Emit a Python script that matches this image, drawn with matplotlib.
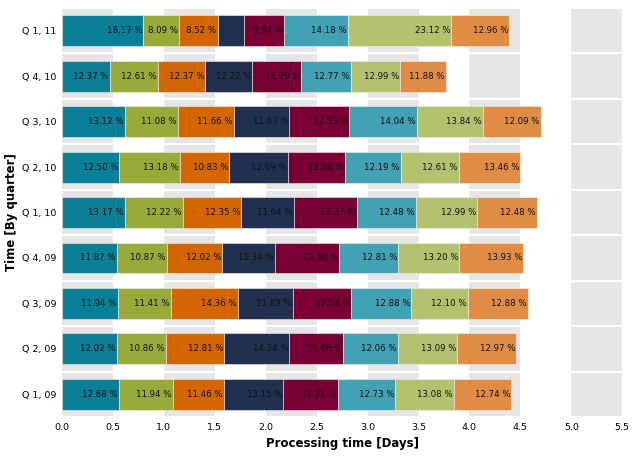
import matplotlib
matplotlib.use('Agg')
import matplotlib.pyplot as plt
import numpy as np

quarters = ['Q 1, 09', 'Q 2, 09', 'Q 3, 09', 'Q 4, 09', 'Q 1, 10',
            'Q 2, 10', 'Q 3, 10', 'Q 4, 10', 'Q 1, 11']
totals = [4.41, 4.46, 4.57, 4.53, 4.66, 4.50, 4.70, 3.77, 4.39]

# percentage share of each segment, per quarter (bottom to top)
shares = [
    [12.68, 11.94, 11.46, 13.15, 12.21, 12.73, 13.08, 12.74],
    [12.02, 10.86, 12.81, 14.34, 11.86, 12.06, 13.09, 12.97],
    [11.94, 11.41, 14.36, 11.89, 12.54, 12.88, 12.10, 12.88],
    [11.87, 10.87, 12.02, 11.34, 13.96, 12.81, 13.20, 13.93],
    [13.17, 12.22, 12.35, 11.04, 13.27, 12.48, 12.99, 12.48],
    [12.50, 13.18, 10.83, 12.69, 12.54, 12.19, 12.61, 13.46],
    [13.12, 11.08, 11.66, 11.63, 12.53, 14.04, 13.84, 12.09],
    [12.37, 12.61, 12.37, 12.22, 12.79, 12.77, 12.99, 11.88],
    [18.17, 8.09, 8.52, 5.92, 9.04, 14.18, 23.12, 12.96],
]

colors = ['#0A8098', '#9AAA3A', '#D46500', '#22304F',
          '#780033', '#42A1B4', '#B3C26E', '#E08C44']

fig = plt.figure(figsize=(6.33, 4.59), dpi=100)
ax = fig.add_axes([0.098, 0.0915, 0.885, 0.891])

# alternating background bands
for x0 in np.arange(0, 5.5, 1.0):
    ax.axvspan(x0, x0 + 0.5, color='#E6E6E6', zorder=0, lw=0)
for yb in np.arange(-0.5, len(quarters) + 0.5, 1.0):
    ax.axhline(yb, color='white', lw=1.5, zorder=0.5)

y = np.arange(len(quarters))
shares = np.array(shares)
widths = shares / 100.0 * np.array(totals)[:, None]
left = np.zeros(len(quarters))
for j in range(shares.shape[1]):
    ax.barh(y, widths[:, j], left=left, height=0.68, color=colors[j],
            edgecolor='#F0F0F0', linewidth=0.4, zorder=2)
    for i in range(len(quarters)):
        if shares[i, j] > 7:
            ax.text(left[i] + widths[i, j] - 0.01, y[i], '%.2f %%' % shares[i, j],
                    ha='right', va='center', fontsize=6.2, color='#111111', zorder=3)
    left = left + widths[:, j]

ax.set_xlim(0, 5.5)
ax.set_ylim(-0.5, len(quarters) - 0.5)
ax.set_yticks(y)
ax.set_yticklabels(quarters, fontsize=6.8)
ax.set_xticks(np.arange(0, 5.51, 0.5))
ax.set_xticklabels(['%.1f' % v for v in np.arange(0, 5.51, 0.5)], fontsize=6.8)
ax.tick_params(length=0, pad=4)
for s in ax.spines.values():
    s.set_visible(False)
ax.set_xlabel('Processing time [Days]', fontsize=8.5, fontweight='bold', labelpad=4)
ax.set_ylabel('Time [By quarter]', fontsize=8.5, fontweight='bold')
ax.yaxis.set_label_coords(-0.078, 0.5)

fig.savefig('out.png', dpi=100)
